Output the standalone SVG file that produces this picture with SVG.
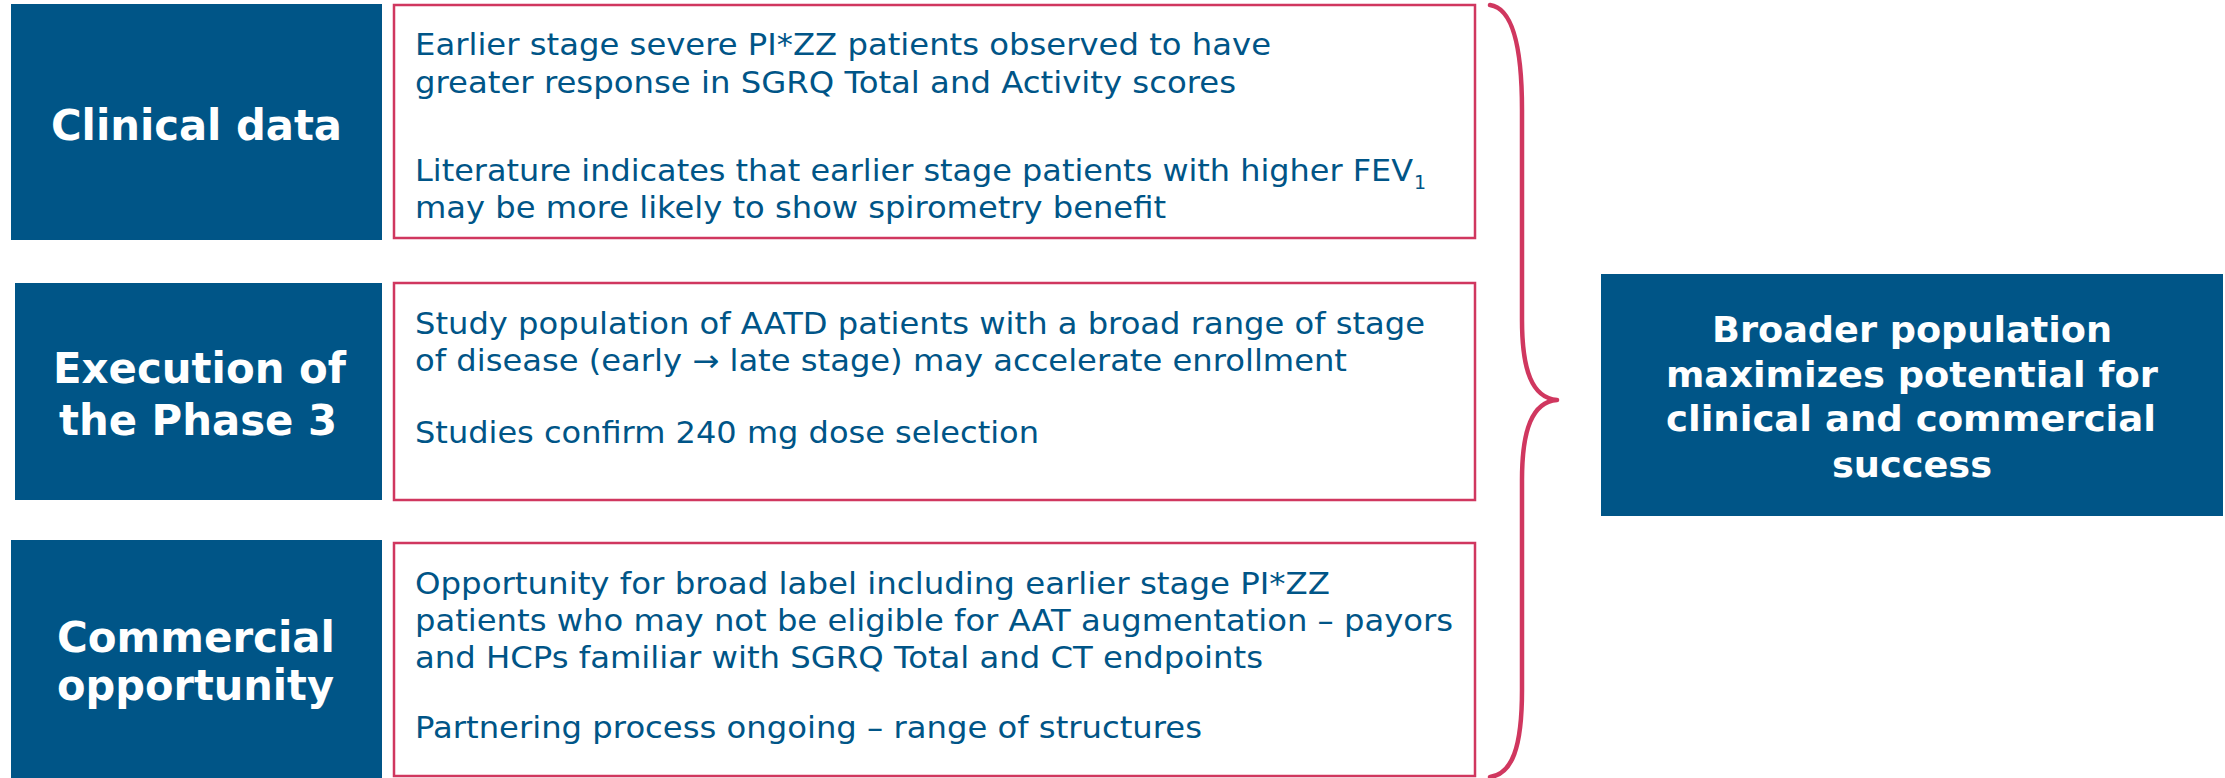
<svg xmlns="http://www.w3.org/2000/svg" width="2225" height="778" viewBox="0 0 2225 778">
  <style>
    .cat { fill: #005587; }
    .cat-label { font-family: "DejaVu Sans", Verdana, sans-serif; font-weight: bold; font-size: 42px; fill: #ffffff; text-anchor: middle; }
    .panel { fill: #ffffff; stroke: #D0375F; stroke-width: 2.5; }
    .body { font-family: "DejaVu Sans", Verdana, sans-serif; font-size: 30px; fill: #005587; }
    .sub { font-family: "DejaVu Sans", Verdana, sans-serif; font-size: 19px; fill: #005587; }
    .outcome-label { font-family: "DejaVu Sans", Verdana, sans-serif; font-weight: bold; font-size: 36px; fill: #ffffff; text-anchor: middle; }
    .brace { fill: none; stroke: #D0375F; stroke-width: 4.5; stroke-linecap: round; stroke-linejoin: round; }
  </style>

  <!-- Row 1: clinical data -->
  <g id="clinical-data">
    <rect class="cat" x="11" y="4" width="371" height="236"/>
    <text class="cat-label" x="196.5" y="140" textLength="291" lengthAdjust="spacingAndGlyphs">Clinical data</text>
  </g>
  <g id="clinical-data-details">
    <rect class="panel" x="394" y="5" width="1081" height="233"/>
    <text class="body" x="415" y="55" textLength="856" lengthAdjust="spacingAndGlyphs">Earlier stage severe PI*ZZ patients observed to have</text>
    <text class="body" x="415" y="93" textLength="821" lengthAdjust="spacingAndGlyphs">greater response in SGRQ Total and Activity scores</text>
    <text class="body" x="415" y="181" textLength="998" lengthAdjust="spacingAndGlyphs">Literature indicates that earlier stage patients with higher FEV</text>
    <text class="sub" x="1414" y="189">1</text>
    <text class="body" x="415" y="218" textLength="751" lengthAdjust="spacingAndGlyphs">may be more likely to show spirometry benefit</text>
  </g>

  <!-- Row 2: execution of the Phase 3 -->
  <g id="execution">
    <rect class="cat" x="15" y="283" width="367" height="217"/>
    <text class="cat-label" x="199.5" y="383" textLength="293" lengthAdjust="spacingAndGlyphs">Execution of</text>
    <text class="cat-label" x="198" y="435" textLength="278" lengthAdjust="spacingAndGlyphs">the Phase 3</text>
  </g>
  <g id="execution-details">
    <rect class="panel" x="394" y="283" width="1081" height="217"/>
    <text class="body" x="415" y="334" textLength="1010" lengthAdjust="spacingAndGlyphs">Study population of AATD patients with a broad range of stage</text>
    <text class="body" x="415" y="371" textLength="932" lengthAdjust="spacingAndGlyphs">of disease (early → late stage) may accelerate enrollment</text>
    <text class="body" x="415" y="443" textLength="624" lengthAdjust="spacingAndGlyphs">Studies confirm 240 mg dose selection</text>
  </g>

  <!-- Row 3: commercial opportunity -->
  <g id="commercial">
    <rect class="cat" x="11" y="540" width="371" height="240"/>
    <text class="cat-label" x="196" y="652" textLength="278" lengthAdjust="spacingAndGlyphs">Commercial</text>
    <text class="cat-label" x="195.5" y="700" textLength="277" lengthAdjust="spacingAndGlyphs">opportunity</text>
  </g>
  <g id="commercial-details">
    <rect class="panel" x="394" y="543" width="1081" height="233"/>
    <text class="body" x="415" y="594" textLength="915" lengthAdjust="spacingAndGlyphs">Opportunity for broad label including earlier stage PI*ZZ</text>
    <text class="body" x="415" y="631" textLength="1038" lengthAdjust="spacingAndGlyphs">patients who may not be eligible for AAT augmentation – payors</text>
    <text class="body" x="415" y="668" textLength="848" lengthAdjust="spacingAndGlyphs">and HCPs familiar with SGRQ Total and CT endpoints</text>
    <text class="body" x="415" y="738" textLength="787" lengthAdjust="spacingAndGlyphs">Partnering process ongoing – range of structures</text>
  </g>

  <!-- Brace gathering the three rows -->
  <g id="connectors">
    <path class="brace" d="M1490,5 C1512,8 1522,45 1522,110 L1522,320 C1522,370 1532,398 1557,400 C1532,402 1522,430 1522,480 L1522,690 C1522,748 1512,774 1490,777"/>
  </g>

  <!-- Outcome -->
  <g id="outcome">
    <rect class="cat" x="1601" y="274" width="622" height="242"/>
    <text class="outcome-label" x="1912" y="342" textLength="400" lengthAdjust="spacingAndGlyphs">Broader population</text>
    <text class="outcome-label" x="1912" y="387" textLength="492" lengthAdjust="spacingAndGlyphs">maximizes potential for</text>
    <text class="outcome-label" x="1911" y="431" textLength="490" lengthAdjust="spacingAndGlyphs">clinical and commercial</text>
    <text class="outcome-label" x="1912" y="477" textLength="160" lengthAdjust="spacingAndGlyphs">success</text>
  </g>
</svg>
